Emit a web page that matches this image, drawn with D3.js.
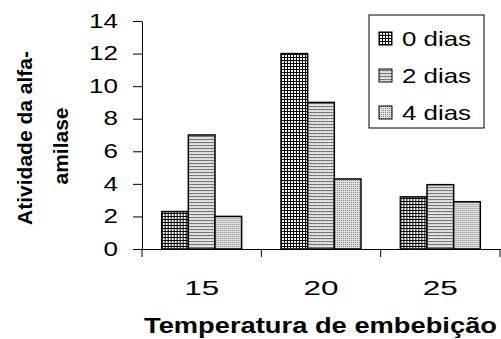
<!DOCTYPE html>
<html>
<head>
<meta charset="utf-8">
<script src="https://cdn.jsdelivr.net/npm/d3@7"></script>
<style>
  body { margin: 0; background: #fff; }
  text { font-family: "Liberation Sans", Arial, sans-serif; fill: #000; }
</style>
</head>
<body>
<div id="vis1"></div>
<script>
const WIDTH = 501;
const HEIGHT = 339;

// data
const temperatures = ["15", "20", "25"];
const seriesNames = ["0 dias", "2 dias", "4 dias"];
const dias0 = [2.3, 12, 3.2];
const dias2 = [7, 9, 3.95];
const dias4 = [2, 4.3, 2.9];
const yTicks = [0, 2, 4, 6, 8, 10, 12, 14];

const seriesValues = [dias0, dias2, dias4];

// the original text is wider than Liberation Sans, force widths per character
function widen(sel, perChar) {
  sel.each(function() {
    const t = d3.select(this);
    t.attr("textLength", t.text().length * perChar)
     .attr("lengthAdjust", "spacingAndGlyphs");
  });
}

const svg = d3.select("#vis1")
  .append("svg")
    .attr("width", WIDTH)
    .attr("height", HEIGHT);

// fill patterns
const defs = svg.append("defs");

const grid = defs.append("pattern")
  .attr("id", "pat0")
  .attr("patternUnits", "userSpaceOnUse")
  .attr("width", 3).attr("height", 3);
grid.append("rect").attr("width", 3).attr("height", 3).attr("fill", "#fff");
grid.append("rect").attr("x", 0).attr("y", 0).attr("width", 1).attr("height", 3).attr("fill", "#000");
grid.append("rect").attr("x", 0).attr("y", 0).attr("width", 3).attr("height", 1).attr("fill", "#000");

const wave = defs.append("pattern")
  .attr("id", "pat1")
  .attr("patternUnits", "userSpaceOnUse")
  .attr("width", 4).attr("height", 3);
wave.append("rect").attr("width", 4).attr("height", 3).attr("fill", "#f0f0f0");
wave.append("path")
  .attr("d", "M0,0.8 L1,2.2 L2,0.8 L3,2.2 L4,0.8")
  .attr("fill", "none")
  .attr("stroke", "#555")
  .attr("stroke-width", 0.8);

const dots = defs.append("pattern")
  .attr("id", "pat2")
  .attr("patternUnits", "userSpaceOnUse")
  .attr("width", 2).attr("height", 2);
dots.append("rect").attr("width", 2).attr("height", 2).attr("fill", "#e0e0e0");
dots.append("rect").attr("x", 0).attr("y", 0).attr("width", 1).attr("height", 1).attr("fill", "#888");

const fills = ["url(#pat0)", "url(#pat1)", "url(#pat2)"];

// scales
const x0 = d3.scaleBand()
  .domain(temperatures)
  .range([142, 500])
  .paddingInner(0.33)
  .paddingOuter(0.165);

const x1 = d3.scaleBand()
  .domain(seriesNames)
  .range([0, x0.bandwidth()]);

const y = d3.scaleLinear()
  .domain([0, 14])
  .range([249, 21]);

// y axis
const yAxis = svg.append("g")
  .attr("transform", "translate(142,0)")
  .call(d3.axisLeft(y).tickValues(yTicks).tickSize(9).tickPadding(15).tickSizeOuter(0));
yAxis.select(".domain").attr("stroke", "#000");
yAxis.selectAll(".tick line").attr("stroke", "#000");
yAxis.selectAll("text")
  .style("font-size", "19.5px")
  .attr("fill", "#000")
  .call(widen, 14.5);

// bars
const groups = svg.selectAll(".grp")
  .data(temperatures)
  .enter()
  .append("g")
    .attr("class", "grp")
    .attr("transform", d => "translate(" + x0(d) + ",0)");

groups.selectAll("rect")
  .data((d, i) => seriesNames.map((s, j) => ({ s: s, j: j, v: seriesValues[j][i] })))
  .enter()
  .append("rect")
    .attr("x", d => x1(d.s))
    .attr("y", d => y(d.v))
    .attr("width", x1.bandwidth())
    .attr("height", d => y(0) - y(d.v))
    .attr("fill", d => fills[d.j])
    .attr("stroke", "#000")
    .attr("stroke-width", 1.5);

// x axis: labels at centres, ticks at category boundaries
const xAxis = svg.append("g")
  .attr("transform", "translate(0," + y(0) + ")")
  .call(d3.axisBottom(x0).tickSize(0).tickPadding(32));
xAxis.select(".domain").attr("stroke", "#000");
xAxis.selectAll("text")
  .style("font-size", "20px")
  .attr("fill", "#000")
  .call(widen, 17.5);

const step = x0.step();
const bounds = [0, 1, 2, 3].map(i => x0.range()[0] + i * step);
xAxis.selectAll(".bound")
  .data(bounds)
  .enter()
  .append("line")
    .attr("class", "bound")
    .attr("x1", d => d).attr("x2", d => d)
    .attr("y1", 0).attr("y2", 8)
    .attr("stroke", "#000");

// axis titles
svg.append("text")
  .attr("x", 320.5)
  .attr("y", 333)
  .attr("text-anchor", "middle")
  .attr("textLength", 353)
  .attr("lengthAdjust", "spacingAndGlyphs")
  .style("font-size", "21.5px")
  .style("font-weight", "bold")
  .text("Temperatura de embebição");

const yTitle = svg.append("text")
  .attr("transform", "translate(0,138) rotate(-90)")
  .attr("text-anchor", "middle")
  .style("font-size", "21px")
  .style("font-weight", "bold");
yTitle.append("tspan").attr("x", 0).attr("y", 32).text("Atividade da alfa-");
yTitle.append("tspan").attr("x", -8).attr("y", 68).text("amilase");

// legend
const legend = svg.append("g").attr("transform", "translate(369,15)");
legend.append("rect")
  .attr("width", 115).attr("height", 113)
  .attr("fill", "#fff")
  .attr("stroke", "#000")
  .attr("stroke-width", 1);

const items = legend.selectAll(".item")
  .data(seriesNames)
  .enter()
  .append("g")
    .attr("class", "item")
    .attr("transform", (d, i) => "translate(10," + (17 + i * 37) + ")");
items.append("rect")
  .attr("width", 13).attr("height", 13)
  .attr("fill", (d, i) => fills[i])
  .attr("stroke", "#000");
items.append("text")
  .attr("x", 23)
  .attr("y", 14)
  .style("font-size", "21px")
  .text(d => d)
  .call(widen, 11.5);
</script>
</body>
</html>
